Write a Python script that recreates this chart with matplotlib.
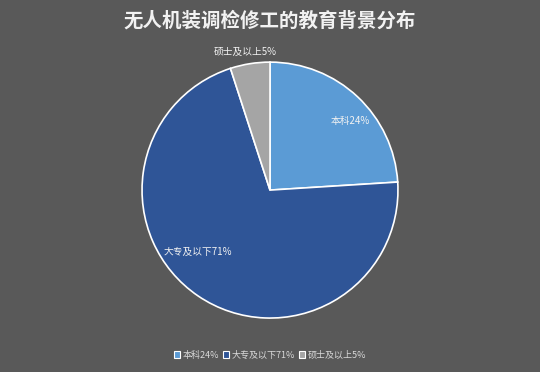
import matplotlib.pyplot as plt
import numpy as np

plt.rcParams['font.family'] = ['Noto Sans CJK SC', 'DejaVu Sans']

categories = ['本科', '大专及以下', '硕士及以上']
shares = [24, 71, 5]
colors = ['#5B9BD5', '#2F5597', '#A5A5A5']
title = '无人机装调检修工的教育背景分布'

bg = '#595959'
fig = plt.figure(figsize=(5.4, 3.72), dpi=100, facecolor=bg)
ax = fig.add_axes([0.263, 0.145, 0.474, 0.688])
ax.set_facecolor(bg)

wedges, _ = ax.pie(shares, colors=colors, startangle=90, counterclock=False,
                   wedgeprops=dict(edgecolor='white', linewidth=1.2))
ax.set_aspect('equal')
ax.set_xlim(-1, 1)
ax.set_ylim(-1, 1)

# label radius / angle shift per slice (roughly where excel put them)
lab_r = [0.83, 0.74, 1.1]
lab_shift = [-6, -15, 1]
labels = [f'{c}{v}%' for c, v in zip(categories, shares)]
for w, r, s, lab in zip(wedges, lab_r, lab_shift, labels):
    ang = np.deg2rad((w.theta1 + w.theta2) / 2 + s)
    ax.text(r * np.cos(ang), r * np.sin(ang), lab, ha='center', va='center',
            fontsize=7, color='#F2F2F2')

fig.text(0.5, 0.945, title, ha='center', va='center', fontsize=14,
         fontweight='bold', color='#F2F2F2')

leg = fig.legend(wedges, labels, loc='center', bbox_to_anchor=(0.5, 0.045),
                 ncol=3, frameon=False, fontsize=6.5, labelcolor='#D9D9D9',
                 handlelength=0.7, handleheight=0.7, handletextpad=0.3,
                 columnspacing=0.4)
for h in leg.legend_handles:
    h.set_edgecolor('white')
    h.set_linewidth(0.8)

fig.savefig('out.png', dpi=100, facecolor=bg)
